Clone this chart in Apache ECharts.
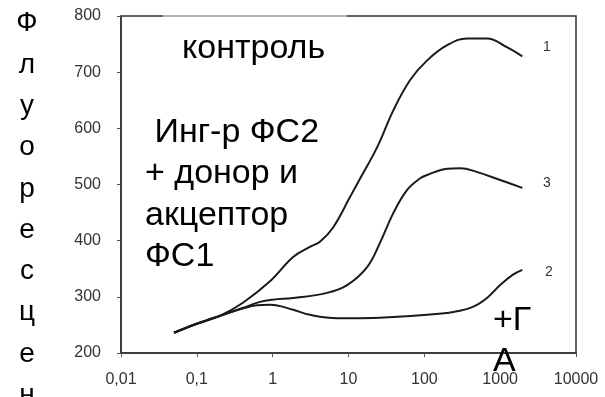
<!DOCTYPE html>
<html><head><meta charset="utf-8">
<script src="https://cdn.jsdelivr.net/npm/echarts@6/dist/echarts.min.js"></script>
<style>html,body{margin:0;padding:0;background:#fff}#c{width:605px;height:397px}</style>
</head><body><div id="c"></div>
<script>
// X tick labels (log axis, comma decimals)
var xTickLabels = ['0,01','0,1','1','10','100','1000','10000'];
var yTicks = [200,300,400,500,600,700,800];

// Curve 1 (control)
var c1x = [0.05,0.1,0.2,0.41,0.93,1.86,3.1,4.2,6.3,10.5,13.5,24,39,65,109,200,365,670,1240,1960];
var c1y = [236,252,266,290,328,371,389,398,424,478,505,567,632,686,721,748,760,760,744,728];
// Curve 3
var c3x = [0.05,0.1,0.2,0.4,0.68,1.0,1.87,5.2,9.6,17.6,26,39,59,88,109,200,300,500,1000,1960];
var c3y = [236,252,266,280,291,295,298,307,321,353,396,449,490,511,517,528,529,522,508,494];
// Curve 2
var c2x = [0.05,0.1,0.2,0.4,0.62,0.93,1.86,3.1,7.1,14,39,109,241,435,670,1000,1460,1960];
var c2y = [236,252,266,279,285,286,277,268,262,262,264,268,273,282,298,321,339,348];

function pairs(xs, ys){ return xs.map(function(x,i){ return [x, ys[i]]; }); }

var txtFont = 'Liberation Sans, Arial, sans-serif';
var chart = echarts.init(document.getElementById('c'), null, {renderer:'canvas'});
var lineStyle = {color:'#1a1a1a', width:2};
chart.setOption({
  animation:false,
  grid:{left:121, right:29, top:16, bottom:44, show:true, borderColor:'#333', borderWidth:1.5, backgroundColor:'transparent'},
  xAxis:{type:'log', logBase:10, min:0.01, max:10000,
    axisLine:{show:true, lineStyle:{color:'#333', width:1.5}},
    axisTick:{show:true, length:4, lineStyle:{color:'#555'}},
    splitLine:{show:false},
    axisLabel:{color:'#333', fontSize:16, fontFamily:txtFont, margin:19,
      formatter:function(v){ var k=Math.round(Math.log10(v))+2; return xTickLabels[k]!==undefined?xTickLabels[k]:String(v).replace('.',','); }}
  },
  yAxis:{type:'value', min:yTicks[0], max:yTicks[yTicks.length-1], interval:100,
    axisLine:{show:true, lineStyle:{color:'#333', width:1.5}},
    axisTick:{show:true, length:4, lineStyle:{color:'#555'}},
    splitLine:{show:false},
    axisLabel:{color:'#333', fontSize:16, fontFamily:txtFont, margin:20}
  },
  series:[
    {type:'line', data:pairs(c1x,c1y), smooth:0.4, symbol:'none', lineStyle:lineStyle},
    {type:'line', data:pairs(c3x,c3y), smooth:0.4, symbol:'none', lineStyle:lineStyle},
    {type:'line', data:pairs(c2x,c2y), smooth:0.4, symbol:'none', lineStyle:lineStyle}
  ],
  graphic:[
    {type:'rect', shape:{x:163,y:12,width:184,height:8}, style:{fill:'rgba(255,255,255,0.5)'}, z:100},
    {type:'text', x:27, y:3, z:101, style:{text:'Ф\nл\nу\nо\nр\nе\nс\nц\nе\nн\nц\nи\nя', font:'28px '+txtFont, fill:'#000', align:'center', verticalAlign:'top', lineHeight:41.3}},
    {type:'text', x:182, y:28, z:101, style:{text:'контроль', font:'34px '+txtFont, fill:'#000', align:'left', verticalAlign:'top', lineHeight:41.3}},
    {type:'text', x:145, y:112, z:101, style:{text:' Инг-р ФС2\n+ донор и\nакцептор\nФС1', font:'34px '+txtFont, fill:'#000', align:'left', verticalAlign:'top', lineHeight:41.3}},
    {type:'text', x:493, y:300, z:101, style:{text:'+Г\nА', font:'34px '+txtFont, fill:'#000', align:'left', verticalAlign:'top', lineHeight:41.3}},
    {type:'text', x:547, y:47, z:101, style:{text:'1', font:'14px '+txtFont, fill:'#333', align:'center', verticalAlign:'middle'}},
    {type:'text', x:547, y:183, z:101, style:{text:'3', font:'14px '+txtFont, fill:'#333', align:'center', verticalAlign:'middle'}},
    {type:'text', x:549, y:272, z:101, style:{text:'2', font:'14px '+txtFont, fill:'#333', align:'center', verticalAlign:'middle'}}
  ]
});
</script></body></html>
